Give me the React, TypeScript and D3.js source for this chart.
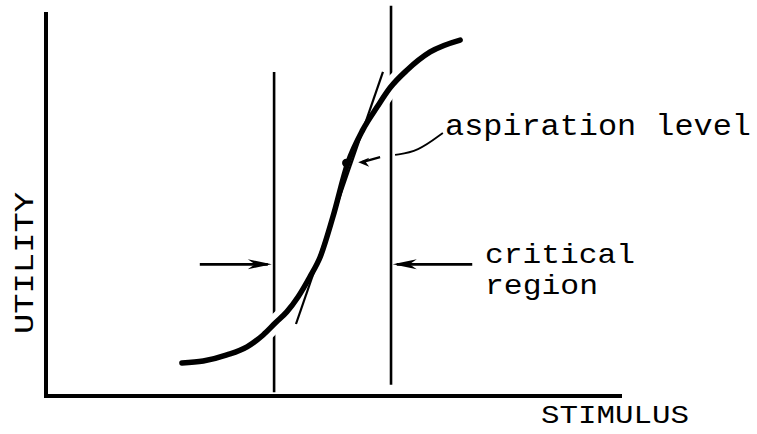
import React from "react";
import * as d3 from "d3";

// Utility curve (stimulus %, utility %)
const curveStimulus = [23.6, 27.3, 31.4, 34.9, 37.7, 39.8, 41.8, 43.75, 45.8, 47.6, 49.8, 52.4, 55.0, 57.5, 59.7, 62.7, 66.7, 71.9];
const curveUtility = [8.6, 9.1, 10.7, 12.8, 15.9, 19.0, 21.9, 25.8, 31.0, 36.2, 46.6, 60.7, 69.3, 75.3, 80.2, 84.9, 89.6, 92.7];

// Tangent at the aspiration level
const tangentStimulus = [43.4, 58.5];
const tangentUtility = [18.75, 84.4];

// Aspiration level point
const aspirationStimulus = 52.3;
const aspirationUtility = 60.7;

// Critical region bounds
const criticalStimulus = [39.6, 59.9];
const criticalTop = [84.4, 101.6];
const criticalBottom = [1.0, 2.9];

// Critical region arrows (tail, tip)
const leftArrowStimulus = [26.7, 39.2];
const rightArrowStimulus = [74.0, 60.2];
const criticalArrowUtility = 34.3;

// Aspiration arrow and leader (stimulus, utility)
const aspArrowStimulus = [58.0, 54.2];
const aspArrowUtility = [62.2, 60.9];
const leaderStimulus = [60.6, 64.5, 68.9];
const leaderUtility = [62.8, 63.6, 68.5];

const W = 757;
const H = 434;
const FONT = "'Courier New', Courier, 'Nimbus Mono PS', FreeMono, 'Liberation Mono', monospace";

const x = d3.scaleLinear().domain([0, 100]).range([46, 622]);
const y = d3.scaleLinear().domain([0, 100]).range([396, 12]);

function arrowHead(tx: number, ty: number, dir: number, len: number, half: number) {
  // dir: +1 pointing right, -1 pointing left
  const bx = tx - dir * len;
  return `M${tx},${ty} L${bx},${ty - half} L${bx + dir * len * 0.3},${ty} L${bx},${ty + half} Z`;
}

export default function App() {
  const curvePts: [number, number][] = curveStimulus.map((s, i) => [x(s), y(curveUtility[i])]);
  const curvePath = d3.line<[number, number]>().curve(d3.curveMonotoneX)(curvePts) || "";

  const leaderPts: [number, number][] = leaderStimulus.map((s, i) => [x(s), y(leaderUtility[i])]);
  const leaderPath = d3.line<[number, number]>().curve(d3.curveBasis)(leaderPts) || "";

  const ay = y(criticalArrowUtility);

  return (
    <svg width={W} height={H} style={{ position: "absolute", left: 0, top: 0, background: "#fff" }}>
      <rect x={0} y={0} width={W} height={H} fill="#fff" />
      {/* axes */}
      <line x1={x(0)} y1={y(100)} x2={x(0)} y2={y(0) + 2} stroke="#000" strokeWidth={4} />
      <line x1={x(0) - 2} y1={y(0)} x2={x(100)} y2={y(0)} stroke="#000" strokeWidth={4} />

      {/* critical region bounds */}
      {criticalStimulus.map((s, i) => (
        <line key={i} x1={x(s)} y1={y(criticalTop[i])} x2={x(s)} y2={y(criticalBottom[i])} stroke="#000" strokeWidth={2.6} />
      ))}

      {/* curve with white halo */}
      <path d={curvePath} fill="none" stroke="#fff" strokeWidth={17} strokeLinecap="butt" />
      <path d={curvePath} fill="none" stroke="#000" strokeWidth={5.5} strokeLinecap="round" />

      {/* tangent */}
      <line x1={x(tangentStimulus[0])} y1={y(tangentUtility[0])} x2={x(tangentStimulus[1])} y2={y(tangentUtility[1])} stroke="#000" strokeWidth={2.2} />

      {/* aspiration point */}
      <circle cx={x(aspirationStimulus) - 1} cy={y(aspirationUtility)} r={4.2} fill="#000" />

      {/* aspiration arrow */}
      <line x1={x(aspArrowStimulus[0])} y1={y(aspArrowUtility[0])} x2={x(aspArrowStimulus[1]) + 4} y2={y(aspArrowUtility[1])} stroke="#000" strokeWidth={2.2} />
      <path d={arrowHead(x(aspArrowStimulus[1]), y(aspArrowUtility[1]), -1, 11, 4.5)} fill="#000" />
      <path d={leaderPath} fill="none" stroke="#000" strokeWidth={1.8} />

      {/* critical region arrows */}
      <line x1={x(leftArrowStimulus[0])} y1={ay} x2={x(leftArrowStimulus[1]) - 4} y2={ay} stroke="#000" strokeWidth={2.8} />
      <path d={arrowHead(x(leftArrowStimulus[1]), ay, 1, 24, 5)} fill="#000" />
      <line x1={x(rightArrowStimulus[0])} y1={ay} x2={x(rightArrowStimulus[1]) + 4} y2={ay} stroke="#000" strokeWidth={2.8} />
      <path d={arrowHead(x(rightArrowStimulus[1]), ay, -1, 24, 5)} fill="#000" />

      {/* labels */}
      <g fontFamily={FONT} fill="#000">
        <text x={445} y={135} fontSize={30} textLength={306} lengthAdjust="spacingAndGlyphs">aspiration level</text>
        <text x={485} y={263} fontSize={28} textLength={150} lengthAdjust="spacingAndGlyphs">critical</text>
        <text x={485} y={294} fontSize={28} textLength={113} lengthAdjust="spacingAndGlyphs">region</text>
        <text x={541} y={423} fontSize={25} textLength={148} lengthAdjust="spacingAndGlyphs">STIMULUS</text>
        <text transform="translate(33,334) rotate(-90)" x={0} y={0} fontSize={27} textLength={142} lengthAdjust="spacingAndGlyphs">UTILITY</text>
      </g>
    </svg>
  );
}
